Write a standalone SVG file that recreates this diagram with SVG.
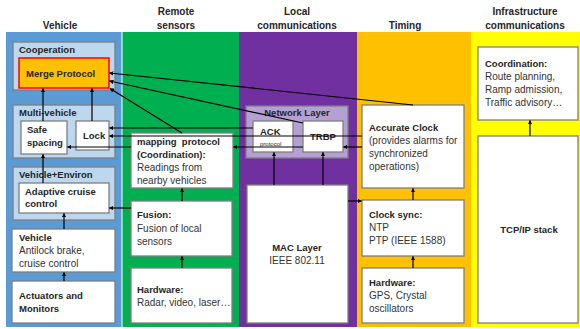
<svg xmlns="http://www.w3.org/2000/svg" width="580" height="329" viewBox="0 0 580 329">
<style>
text{font-family:"Liberation Sans",Arial,sans-serif;fill:#262626}
.h{font-size:10px;font-weight:bold;text-anchor:middle}
.b{font-size:9.5px;font-weight:bold}
.n{font-size:10px;fill:#333}
.box{fill:#fff;stroke:#7f7f7f;stroke-width:1.3}
.grp{fill:#bdd7ee;stroke:#7f7f7f;stroke-width:1.3}
.c{stroke:#000;stroke-width:1.2;fill:none;marker-end:url(#ah)}
</style>
<defs>
<marker id="ah" viewBox="0 0 8 8" refX="7" refY="4" markerWidth="4.5" markerHeight="4.5" orient="auto" markerUnits="userSpaceOnUse">
<path d="M0,0 L8,4 L0,8 z" fill="#000"/>
</marker>
</defs>
<rect width="580" height="329" fill="#fff"/>
<g id="headers">
<text class="h" x="60" y="29">Vehicle</text>
<text class="h" x="176" y="15">Remote</text>
<text class="h" x="176" y="29">sensors</text>
<text class="h" x="297" y="15">Local</text>
<text class="h" x="297" y="29">communications</text>
<text class="h" x="405" y="29">Timing</text>
<text class="h" x="525" y="15">Infrastructure</text>
<text class="h" x="525" y="29">communications</text>
</g>
<g id="columns">
<rect x="6" y="32" width="115.5" height="295" fill="#5b9bd5"/>
<rect x="122.5" y="32" width="116.5" height="295" fill="#00b050"/>
<rect x="239" y="32" width="118" height="295" fill="#7030a0"/>
<rect x="357" y="32" width="114" height="295" fill="#ffc000"/>
<rect x="471" y="32" width="109" height="295" fill="#ffff00"/>
</g>
<g id="cooperation">
<rect class="grp" x="13" y="42" width="102" height="48"/>
<text class="b" x="19" y="53">Cooperation</text>
</g>
<g id="merge-protocol">
<rect x="19" y="58" width="90" height="30" fill="#ffc000" stroke="#ff0000" stroke-width="1.5"/>
<text class="b" x="26" y="77">Merge Protocol</text>
</g>
<g id="multi-vehicle">
<rect class="grp" x="13" y="105" width="102" height="53"/>
<text class="b" x="19" y="116">Multi-vehicle</text>
</g>
<g id="safe-spacing">
<rect class="box" x="21" y="121" width="46" height="33"/>
<text class="b" x="27" y="133">Safe</text>
<text class="b" x="27" y="146">spacing</text>
</g>
<g id="lock">
<rect class="box" x="76" y="121" width="33" height="29"/>
<text class="b" x="83" y="139">Lock</text>
</g>
<g id="vehicle-environ">
<rect class="grp" x="13" y="167" width="102" height="53"/>
<text class="b" x="19" y="178">Vehicle+Environ</text>
</g>
<g id="adaptive-cruise">
<rect class="box" x="19" y="183" width="90" height="30"/>
<text class="b" x="25" y="195">Adaptive cruise</text>
<text class="b" x="25" y="207">control</text>
</g>
<g id="vehicle">
<rect class="box" x="12" y="229" width="103" height="43"/>
<text class="b" x="19" y="241">Vehicle</text>
<text class="n" x="19" y="254">Antilock brake,</text>
<text class="n" x="19" y="267">cruise control</text>
</g>
<g id="actuators">
<rect class="box" x="12" y="281" width="103" height="42"/>
<text class="b" x="19" y="299">Actuators and</text>
<text class="b" x="19" y="312">Monitors</text>
</g>
<g id="mapping-protocol">
<rect class="box" x="131" y="133" width="102" height="55"/>
<text class="b" x="137" y="145">mapping&#160; protocol</text>
<text class="b" x="137" y="158">(Coordination):</text>
<text class="n" x="137" y="171">Readings from</text>
<text class="n" x="137" y="184">nearby vehicles</text>
</g>
<g id="fusion">
<rect class="box" x="131" y="201" width="101" height="55"/>
<text class="b" x="137" y="218">Fusion:</text>
<text class="n" x="137" y="232">Fusion of local</text>
<text class="n" x="137" y="245">sensors</text>
</g>
<g id="hardware-sensors">
<rect class="box" x="131" y="268" width="101" height="55"/>
<text class="b" x="137" y="293">Hardware:</text>
<text class="n" x="137" y="306">Radar, video, laser…</text>
</g>
<g id="network-layer">
<rect x="246" y="106" width="102" height="52" fill="#b4a0d2" stroke="#7f7f7f" stroke-width="1.3"/>
<text class="b" x="297" y="116" text-anchor="middle">Network Layer</text>
</g>
<g id="ack">
<rect class="box" x="253" y="121" width="40" height="31"/>
<text class="b" x="260" y="135">ACK</text>
<text x="260" y="146" font-size="6">protocol</text>
</g>
<g id="trbp">
<rect class="box" x="303" y="121" width="40" height="31"/>
<text class="b" x="323" y="140" text-anchor="middle">TRBP</text>
</g>
<g id="mac-layer">
<rect class="box" x="247" y="185" width="101" height="138"/>
<text class="b" x="297" y="251" text-anchor="middle">MAC Layer</text>
<text class="n" x="297" y="264" text-anchor="middle">IEEE 802.11</text>
</g>
<g id="accurate-clock">
<rect class="box" x="362" y="105" width="102" height="83"/>
<text class="b" x="369" y="131">Accurate Clock</text>
<text class="n" x="369" y="144">(provides alarms for</text>
<text class="n" x="369" y="157">synchronized</text>
<text class="n" x="369" y="170">operations)</text>
</g>
<g id="clock-sync">
<rect class="box" x="362" y="200" width="102" height="56"/>
<text class="b" x="369" y="218">Clock sync:</text>
<text class="n" x="369" y="231">NTP</text>
<text class="n" x="369" y="244">PTP (IEEE 1588)</text>
</g>
<g id="hardware-timing">
<rect class="box" x="362" y="268" width="102" height="55"/>
<text class="b" x="369" y="286">Hardware:</text>
<text class="n" x="369" y="299">GPS, Crystal</text>
<text class="n" x="369" y="312">oscillators</text>
</g>
<g id="coordination-infra">
<rect class="box" x="478" y="47" width="100" height="73"/>
<text class="b" x="485" y="67">Coordination:</text>
<text class="n" x="485" y="80">Route planning,</text>
<text class="n" x="485" y="93">Ramp admission,</text>
<text class="n" x="485" y="106">Traffic advisory…</text>
</g>
<g id="tcp-ip">
<rect class="box" x="478" y="136" width="100" height="187"/>
<text class="b" x="529" y="233" text-anchor="middle">TCP/IP stack</text>
</g>
<g id="connectors">
<line class="c" x1="43" y1="121" x2="43" y2="88.5"/>
<line class="c" x1="92" y1="121" x2="92" y2="88.5"/>
<line class="c" x1="43" y1="183" x2="43" y2="154.5"/>
<line class="c" x1="64" y1="229" x2="64" y2="213.5"/>
<line class="c" x1="64" y1="281" x2="64" y2="272.5"/>
<line class="c" x1="182" y1="201" x2="182" y2="188.5"/>
<line class="c" x1="182" y1="268" x2="182" y2="256.5"/>
<line class="c" x1="131" y1="208" x2="109.5" y2="208"/>
<line class="c" x1="274" y1="185" x2="274" y2="152.5"/>
<line class="c" x1="323" y1="185" x2="323" y2="152.5"/>
<line class="c" x1="348" y1="201" x2="361.5" y2="201"/>
<line class="c" x1="413" y1="200" x2="413" y2="188.5"/>
<line class="c" x1="413" y1="268" x2="413" y2="256.5"/>
<line class="c" x1="530" y1="136" x2="530" y2="120.5"/>
<line class="c" x1="413" y1="105" x2="109.5" y2="73"/>
<line class="c" x1="303" y1="123" x2="109.5" y2="81"/>
<line class="c" x1="182" y1="133" x2="110" y2="88.5"/>
<line class="c" x1="253" y1="128" x2="109.5" y2="128"/>
<line class="c" x1="362" y1="136" x2="109.5" y2="136"/>
<line class="c" x1="131" y1="147" x2="67.5" y2="147"/>
<line class="c" x1="303" y1="147" x2="233.5" y2="147"/>
<line class="c" x1="362" y1="147" x2="343.5" y2="147"/>
</g>
</svg>
